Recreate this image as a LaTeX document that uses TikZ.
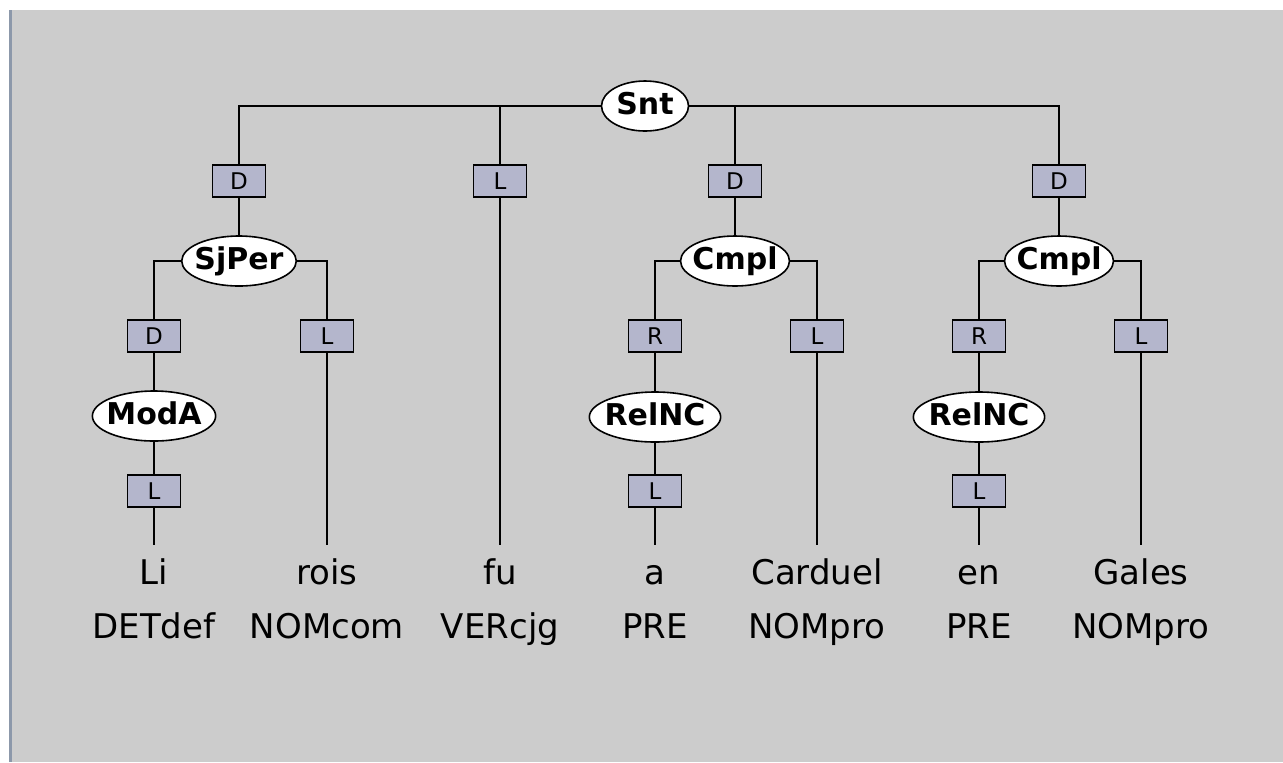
\documentclass[tikz,border=0pt]{standalone}
\usepackage{fontspec}
\setmainfont{DejaVu Sans}
\usepackage{tikz}
\usetikzlibrary{shapes,arrows,positioning,calc}
\definecolor{panelgray}{RGB}{204,204,204}
\definecolor{relfill}{RGB}{180,182,204}
\definecolor{rimblue}{RGB}{140,152,170}

\begin{document}
\begin{tikzpicture}[x=0.5pt, y=-0.5pt,
    cat/.style={ellipse, draw, fill=white, line width=0.8pt, inner xsep=-2pt, inner ysep=0pt,
        minimum height=25pt, text height=11pt, text depth=3pt, font=\fontsize{15}{18}\selectfont\bfseries},
    rel/.style={rectangle, draw, fill=relfill, line width=0.8pt, minimum width=26.5pt,
        minimum height=16pt, inner sep=0pt, font=\fontsize{11.5}{13}\selectfont},
    word/.style={anchor=base, inner xsep=0pt, inner ysep=7.5pt, text height=12pt, text depth=4pt,
        font=\fontsize{17}{20}\selectfont},
    tag/.style={anchor=base, inner sep=0pt, font=\fontsize{17}{20}\selectfont},
    edge/.style={line width=1pt}]
    \useasboundingbox (0,0) rectangle (1283,762);
    \fill[white] (0,0) rectangle (1283,762);
    \fill[panelgray] (12,10) rectangle (1283,762);
    \fill[rimblue] (9,10) rectangle (12,762);

    \node[cat, minimum width=43.5pt] (snt) at (645,106) {Snt};
    \node[rel] (dSj) at (239,181) {D};
    \node[rel] (lFu) at (500,181) {L};
    \node[rel] (dCa) at (735,181) {D};
    \node[rel] (dCb) at (1059,181) {D};
    \node[cat] (sjper) at (239,261) {SjPer};
    \node[cat] (cmplA) at (735,261) {Cmpl};
    \node[cat] (cmplB) at (1059,261) {Cmpl};
    \node[rel] (dMo) at (154,336) {D};
    \node[rel] (lRois) at (327,336) {L};
    \node[rel] (rRa) at (655,336) {R};
    \node[rel] (lCar) at (817,336) {L};
    \node[rel] (rRb) at (979,336) {R};
    \node[rel] (lGal) at (1141,336) {L};
    \node[cat] (modA) at (154,416) {ModA};
    \node[cat] (relA) at (655,417) {RelNC};
    \node[cat] (relB) at (979,417) {RelNC};
    \node[rel] (lLi) at (154,491) {L};
    \node[rel] (lA) at (655,491) {L};
    \node[rel] (lEn) at (979,491) {L};

    \foreach \x/\w/\t/\n in {154/Li/DETdef/li, 327/rois/NOMcom/rois, 500/fu/VERcjg/fu,
        655/a/PRE/a, 817/Carduel/NOMpro/car, 979/en/PRE/en, 1141/Gales/NOMpro/gal} {
        \node[word] (w\n) at (\x,584) {\w};
        \node[tag] (t\n) at (\x,638) {\t};
    }

    \draw[edge] (snt.west) -| (dSj.north);
    \draw[edge] (snt.west) -| (lFu.north);
    \draw[edge] (snt.east) -| (dCa.north);
    \draw[edge] (snt.east) -| (dCb.north);
    \draw[edge] (dSj) -- (sjper);
    \draw[edge] (dCa) -- (cmplA);
    \draw[edge] (dCb) -- (cmplB);
    \draw[edge] (lFu) -- (wfu);
    \draw[edge] (sjper.west) -| (dMo.north);
    \draw[edge] (sjper.east) -| (lRois.north);
    \draw[edge] (cmplA.west) -| (rRa.north);
    \draw[edge] (cmplA.east) -| (lCar.north);
    \draw[edge] (cmplB.west) -| (rRb.north);
    \draw[edge] (cmplB.east) -| (lGal.north);
    \draw[edge] (dMo) -- (modA);
    \draw[edge] (rRa) -- (relA);
    \draw[edge] (rRb) -- (relB);
    \draw[edge] (modA) -- (lLi);
    \draw[edge] (relA) -- (lA);
    \draw[edge] (relB) -- (lEn);
    \draw[edge] (lLi) -- (wli);
    \draw[edge] (lA) -- (wa);
    \draw[edge] (lEn) -- (wen);
    \draw[edge] (lRois) -- (wrois);
    \draw[edge] (lCar) -- (wcar);
    \draw[edge] (lGal) -- (wgal);
\end{tikzpicture}
\end{document}
